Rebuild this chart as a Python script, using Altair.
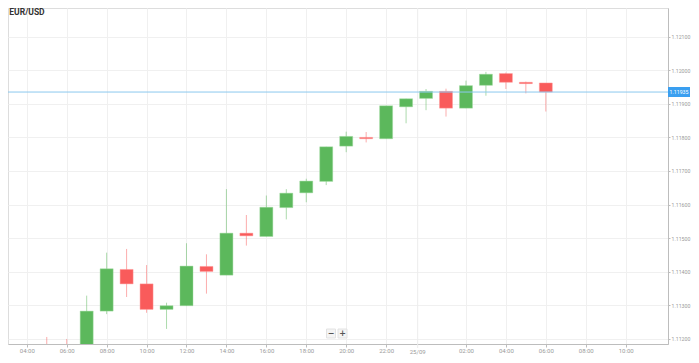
import altair as alt
import pandas as pd

# ---- data (hours since 24/09 00:00) ----
hours = list(range(5, 31))
open_ = [1.11180, 1.11178, 1.11160, 1.11283, 1.11407, 1.11364, 1.11288, 1.11299, 1.11416,
         1.11390, 1.11515, 1.11505, 1.11591, 1.11635, 1.11669, 1.11774, 1.11800, 1.11796,
         1.11891, 1.11916, 1.11937, 1.11887, 1.11955, 1.11990, 1.11964, 1.11962]
close = [1.11170, 1.11168, 1.11283, 1.11409, 1.11364, 1.11288, 1.11299, 1.11417, 1.11401,
         1.11515, 1.11507, 1.11592, 1.11634, 1.11670, 1.11772, 1.11803, 1.11796, 1.11894,
         1.11915, 1.11937, 1.11887, 1.11954, 1.11988, 1.11964, 1.11960, 1.11935]
high = [1.11206, 1.11200, 1.11329, 1.11457, 1.11468, 1.11420, 1.11308, 1.11485, 1.11452,
        1.11646, 1.11569, 1.11627, 1.11646, 1.11677, 1.11772, 1.11817, 1.11816, 1.11894,
        1.11915, 1.11944, 1.11945, 1.11969, 1.11995, 1.11993, 1.11966, 1.11962]
low = [1.11160, 1.11160, 1.11150, 1.11274, 1.11325, 1.11278, 1.11230, 1.11299, 1.11335,
       1.11390, 1.11478, 1.11505, 1.11556, 1.11607, 1.11658, 1.11756, 1.11785, 1.11796,
       1.11842, 1.11881, 1.11862, 1.11887, 1.11924, 1.11944, 1.11931, 1.11877]

current_price = 1.11935
x_ticks = [4, 6, 8, 10, 12, 14, 16, 18, 20, 22, 26, 28, 30, 32, 34]
y_ticks = [1.112, 1.113, 1.114, 1.115, 1.116, 1.117, 1.118, 1.119, 1.120, 1.121, 1.122]
date_label = "25/09"
date_pos = 23.58
title = "EUR/USD"

SVG_W, SVG_H = 683, 347
W, H = 660, 336
x_dom = [3.309, 35.87]
y_dom = [1.111851, 1.121851]

df = pd.DataFrame({"h": hours, "open": open_, "close": close, "high": high, "low": low})
df["dir"] = ["up" if c >= o else "down" for o, c in zip(open_, close)]

GREEN = "#5cb85c"
RED = "#f95b5b"
color_scale = alt.Scale(domain=["up", "down"], range=[GREEN, RED])

xs = alt.Scale(domain=x_dom, nice=False, zero=False)
ys = alt.Scale(domain=y_dom, nice=False, zero=False)

label_expr = "((datum.value % 24) < 10 ? '0' : '') + (datum.value % 24) + ':00'"

x_axis = alt.Axis(
    values=x_ticks, labelExpr=label_expr, orient="bottom", title=None,
    grid=True, gridColor="#f0f0f0", domainColor="#bdbdbd", tickColor="#bdbdbd",
    tickSize=3, labelFontSize=6, labelColor="#9a9a9a", labelFont="Roboto",
    labelPadding=0, labelFlush=False, labelOverlap=False)
y_axis = alt.Axis(
    values=y_ticks, format=".5f", orient="right", title=None,
    grid=True, gridColor="#f0f0f0", domainColor="#bdbdbd", tickColor="#bdbdbd",
    tickSize=2, labelFontSize=5.2, labelColor="#9a9a9a", labelFont="Roboto",
    labelPadding=1, labelFlush=False, labelOverlap=False)

base = alt.Chart(df)

wicks = base.mark_rule(strokeWidth=1, opacity=0.5, clip=True).encode(
    x=alt.X("h:Q", scale=xs, axis=x_axis),
    y=alt.Y("low:Q", scale=ys, axis=y_axis),
    y2="high:Q",
    color=alt.Color("dir:N", scale=color_scale, legend=None),
)

bodies = base.mark_bar(size=13, clip=True, strokeWidth=1, strokeOpacity=0.45).encode(
    x=alt.X("h:Q", scale=xs, axis=x_axis),
    y=alt.Y("open:Q", scale=ys, axis=y_axis),
    y2="close:Q",
    color=alt.Color("dir:N", scale=color_scale, legend=None),
    stroke=alt.Stroke("dir:N", scale=alt.Scale(domain=["up", "down"], range=["#9fdc9f", "#ff9c9c"]), legend=None),
)

pdf = pd.DataFrame({"price": [current_price], "label": [f"{current_price:.5f}"]})
price_line = alt.Chart(pdf).mark_rule(color="#8cc8ee", strokeWidth=1).encode(
    y=alt.Y("price:Q", scale=ys, axis=y_axis))
price_box = alt.Chart(pdf).mark_point(
    shape="M-1,-0.4H1V0.4H-1Z", filled=True, fill="#3a9ff0", stroke="#3a9ff0",
    size=400, opacity=1).encode(
    x=alt.value(W + 11), y=alt.Y("price:Q", scale=ys, axis=y_axis))
price_text = alt.Chart(pdf).mark_text(
    color="white", fontSize=5.2, font="Roboto", align="center", baseline="middle").encode(
    x=alt.value(W + 11), y=alt.Y("price:Q", scale=ys, axis=y_axis), text="label:N")

ddf = pd.DataFrame({"h": [date_pos], "label": [date_label]})
date_rule = alt.Chart(ddf).mark_rule(color="#ececec", strokeWidth=1).encode(
    x=alt.X("h:Q", scale=xs, axis=x_axis), y=alt.value(0), y2=alt.value(H + 4))
date_text = alt.Chart(ddf).mark_text(
    fontSize=6, font="Roboto", color="#9a9a9a", baseline="middle", align="center").encode(
    x=alt.X("h:Q", scale=xs, axis=x_axis), y=alt.value(H + 7.5), text="label:N")

tdf = pd.DataFrame({"t": [title]})
title_text = alt.Chart(tdf).mark_text(
    fontSize=8.5, font="Roboto", fontWeight="bold", color="#333333",
    align="left", baseline="alphabetic").encode(
    x=alt.value(1.3), y=alt.value(7), text="t:N")

minus_df = pd.DataFrame({"s": ["\u2212"]})
plus_df = pd.DataFrame({"s": ["+"]})
bx1, bx2, by = 323, 334.5, 325.5


def button(dfb, bx):
    box = alt.Chart(dfb).mark_point(shape="square", filled=True, fill="#f4f4f4",
                                    stroke="#e2e2e2", strokeWidth=1, size=80, opacity=1).encode(
        x=alt.value(bx), y=alt.value(by))
    txt = alt.Chart(dfb).mark_text(fontSize=8, font="DejaVu Sans", fontWeight="bold",
                                   color="#555555", baseline="middle", align="center").encode(
        x=alt.value(bx), y=alt.value(by), text="s:N")
    return box + txt


chart = alt.layer(
    date_rule, wicks, bodies, price_line, price_box, price_text, date_text,
    title_text, button(minus_df, bx1), button(plus_df, bx2)
).properties(
    width=W, height=H,
    autosize=alt.AutoSizeParams(type="none"),
    padding={"left": 0, "top": 0, "right": SVG_W - W, "bottom": SVG_H - H},
).configure_view(stroke=None).configure(background="white")

chart.save("out.html", embed_options={"renderer": "svg", "actions": False})
